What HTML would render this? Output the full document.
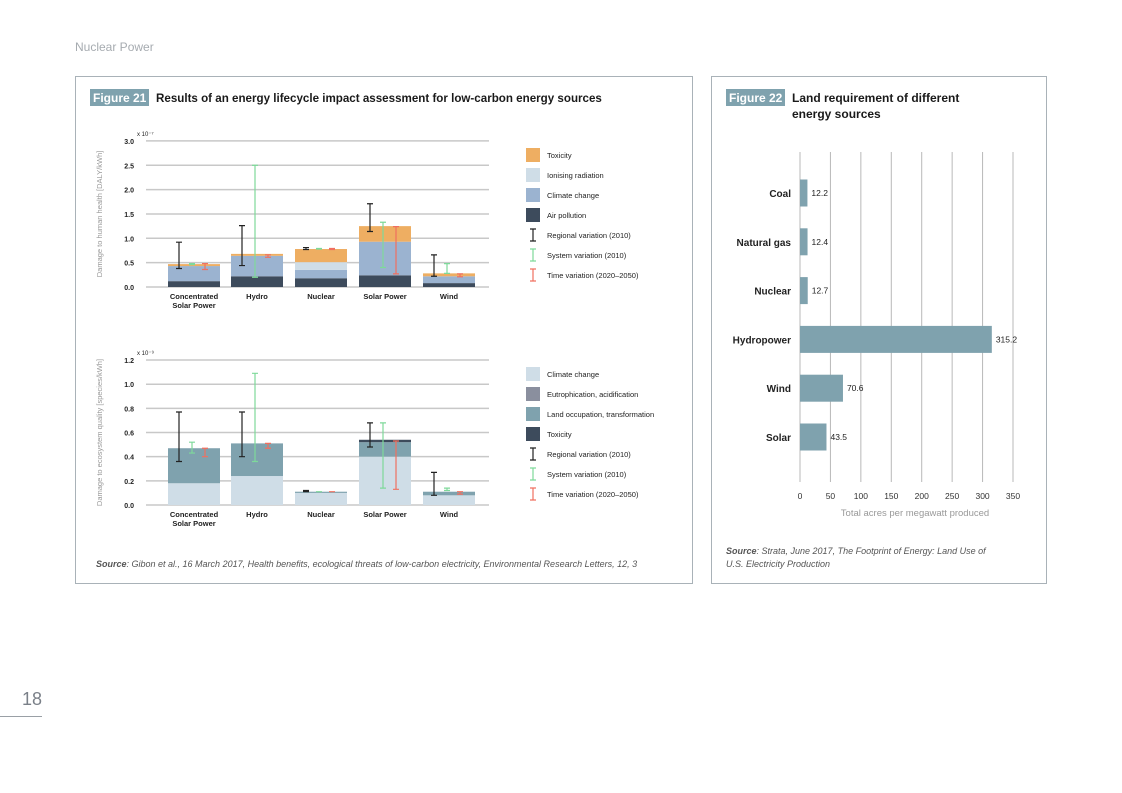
<!DOCTYPE html>
<html><head><meta charset="utf-8"><style>
body{margin:0;width:1122px;height:793px;background:#fff;font-family:"Liberation Sans",sans-serif;position:relative;overflow:hidden}
.abs{position:absolute}
</style></head><body>
<div class="abs" style="left:75px;top:40px;font-size:12px;color:#a6abb0">Nuclear Power</div>
<div class="abs" style="left:22px;top:689px;font-size:18px;color:#7a8088">18</div>
<div class="abs" style="left:0;top:716px;width:42px;height:1px;background:#9aa0a6"></div>
<div class="abs" style="left:75px;top:76px;width:616px;height:506px;border:1px solid #a9b2b8"></div>
<div class="abs" style="left:711px;top:76px;width:334px;height:506px;border:1px solid #a9b2b8"></div>
<svg class="abs" style="left:0;top:0" width="1122" height="793" id="svg" font-family="Liberation Sans, sans-serif"></svg>
<script>
const cats=["Concentrated|Solar Power","Hydro","Nuclear","Solar Power","Wind"];
const hAir=[0.12,0.22,0.18,0.24,0.08];
const hClimate=[0.31,0.42,0.17,0.69,0.14];
const hIonising=[0,0,0.16,0,0];
const hToxicity=[0.04,0.04,0.27,0.32,0.06];
const hReg=[[0.38,0.92],[0.44,1.26],[0.77,0.81],[1.14,1.71],[0.22,0.66]];
const hSys=[[0.46,0.48],[0.2,2.5],[0.78,0.79],[0.4,1.33],[0.28,0.48]];
const hTime=[[0.36,0.48],[0.61,0.66],[0.77,0.79],[0.27,1.24],[0.21,0.27]];
const hTicks=[0,0.5,1.0,1.5,2.0,2.5,3.0];
const eClimate=[0.18,0.24,0.10,0.40,0.08];
const eEutro=[0,0,0,0,0];
const eLand=[0.29,0.27,0.01,0.12,0.03];
const eTox=[0,0,0,0.02,0];
const eReg=[[0.36,0.77],[0.40,0.77],[0.11,0.12],[0.48,0.68],[0.08,0.27]];
const eSys=[[0.43,0.52],[0.36,1.09],[0.11,0.11],[0.14,0.68],[0.12,0.14]];
const eTime=[[0.40,0.47],[0.47,0.51],[0.11,0.11],[0.13,0.53],[0.09,0.11]];
const eTicks=[0,0.2,0.4,0.6,0.8,1.0,1.2];
const landCats=["Coal","Natural gas","Nuclear","Hydropower","Wind","Solar"];
const landVals=[12.2,12.4,12.7,315.2,70.6,43.5];
const landTicks=[0,50,100,150,200,250,300,350];

const svg=document.getElementById('svg');const NS='http://www.w3.org/2000/svg';
function el(t,a,txt){const e=document.createElementNS(NS,t);for(const k in a)e.setAttribute(k,a[k]);if(txt!=null)e.textContent=txt;svg.appendChild(e);return e;}

let e;
e=el('rect',{x:90,y:89,width:59,height:17,fill:'#7fa2ae'});
e=el('text',{x:93,y:102,'font-size':12,fill:'#fff','font-weight':'bold'},'Figure 21');
e=el('text',{x:156,y:102,'font-size':11.6,fill:'#1a1a1a','font-weight':'bold'},'Results of an energy lifecycle impact assessment for low-carbon energy sources');
e=el('rect',{x:726,y:89,width:59,height:17,fill:'#7fa2ae'});
e=el('text',{x:729,y:102,'font-size':12,fill:'#fff','font-weight':'bold'},'Figure 22');
e=el('text',{x:792,y:102,'font-size':12,fill:'#1a1a1a','font-weight':'bold'},'Land requirement of different');
e=el('text',{x:792,y:118,'font-size':12,fill:'#1a1a1a','font-weight':'bold'},'energy sources');
e=el('text',{x:96,y:567,'font-size':9,fill:'#555','font-style':'italic'},'');
e.innerHTML='<tspan font-weight="bold">Source</tspan>: Gibon et al., 16 March 2017, Health benefits, ecological threats of low-carbon electricity, Environmental Research Letters, 12, 3';

e=el('text',{x:726,y:554,'font-size':9,fill:'#555','font-style':'italic'},'');
e.innerHTML='<tspan font-weight="bold">Source</tspan>: Strata, June 2017, The Footprint of Energy: Land Use of';

e=el('text',{x:726,y:567,'font-size':9,fill:'#555','font-style':'italic'},'U.S. Electricity Production');

const centers=[194,257,321,385,449];
function stackChart(y0,scale,ticks,stacks,errs,exp,ylabel,pfx){
  const yOf=v=>y0-v*scale;
  ticks.forEach(t=>{
    const g=el('line',{x1:146,x2:489,y1:yOf(t),y2:yOf(t),stroke:'#c8c8c8','stroke-width':1.5});
    
    const l=el('text',{x:134,y:yOf(t)+3,'font-size':7,'font-weight':'bold','text-anchor':'end',fill:'#222'},t.toFixed(1));
    
  });
  const ex=el('text',{x:137,y:yOf(ticks[ticks.length-1])-5,'font-size':6,fill:'#222'},'x 10'+exp);
  const yl=el('text',{transform:`translate(102,${(y0+yOf(ticks[ticks.length-1]))/2}) rotate(-90)`,'font-size':7.5,fill:'#999','text-anchor':'middle'},ylabel);
  
  cats.forEach((c,i)=>{
    let acc=0;
    stacks.forEach(s=>{
      const v=s.vals[i];if(v>0){const r=el('rect',{x:centers[i]-26,y:yOf(acc+v),width:52,height:v*scale,fill:s.color});
      }
      acc+=v;
    });
    c.split('|').forEach((ln,k)=>{const t=el('text',{x:centers[i],y:y0+12+k*9,'font-size':7.5,'font-weight':'bold','text-anchor':'middle',fill:'#222'},ln);
      });
    errs.forEach(er=>{
      const [a,b]=er.vals[i];const x=centers[i]+er.off;
      const g=el('path',{d:`M${x},${yOf(a)}V${yOf(b)}M${x-3},${yOf(a)}h6M${x-3},${yOf(b)}h6`,stroke:er.color,'stroke-width':1.2,fill:'none'});
      
    });
  });
}
function legend(y,items,pfx){
  items.forEach((it,k)=>{
    const yy=y+k*20;
    if(it.err){const g=el('path',{d:`M533,${yy-6}V${yy+6}M530,${yy-6}h6M530,${yy+6}h6`,stroke:it.color,'stroke-width':1.2,fill:'none'});
      }
    else{const r=el('rect',{x:526,y:yy-7,width:14,height:14,fill:it.color});}
    const t=el('text',{x:547,y:yy+3,'font-size':7.5,fill:'#222'},it.label);
  });
}
const BLK='#222',GRN='#7ed99a',RED='#f07060';
stackChart(287,48.7,hTicks,[{name:'air-pollution',vals:hAir,color:'#3d4b5c'},{name:'climate-change',vals:hClimate,color:'#9bb3d0'},{name:'ionising-radiation',vals:hIonising,color:'#cfdde7'},{name:'toxicity',vals:hToxicity,color:'#eeae62'}],
 [{name:'regional',vals:hReg,color:BLK,off:-15},{name:'system',vals:hSys,color:GRN,off:-2},{name:'time',vals:hTime,color:RED,off:11}],'⁻⁷','Damage to human health [DALY/kWh]','health');
legend(155,[{label:'Toxicity',color:'#eeae62'},{label:'Ionising radiation',color:'#cfdde7'},{label:'Climate change',color:'#9bb3d0'},{label:'Air pollution',color:'#3d4b5c'},{label:'Regional variation (2010)',color:BLK,err:1},{label:'System variation (2010)',color:GRN,err:1},{label:'Time variation (2020–2050)',color:RED,err:1}],'health');
stackChart(505,120.8,eTicks,[{name:'climate-change',vals:eClimate,color:'#cfdde7'},{name:'eutrophication',vals:eEutro,color:'#8a8f9e'},{name:'land-occupation',vals:eLand,color:'#7fa2ae'},{name:'toxicity',vals:eTox,color:'#3d4b5c'}],
 [{name:'regional',vals:eReg,color:BLK,off:-15},{name:'system',vals:eSys,color:GRN,off:-2},{name:'time',vals:eTime,color:RED,off:11}],'⁻⁹','Damage to ecosystem quality [species/kWh]','eco');
legend(374,[{label:'Climate change',color:'#cfdde7'},{label:'Eutrophication, acidification',color:'#8a8f9e'},{label:'Land occupation, transformation',color:'#7fa2ae'},{label:'Toxicity',color:'#3d4b5c'},{label:'Regional variation (2010)',color:BLK,err:1},{label:'System variation (2010)',color:GRN,err:1},{label:'Time variation (2020–2050)',color:RED,err:1}],'eco');

const lx=v=>800+v*(213/350);
landTicks.forEach(t=>{
  const g=el('line',{x1:lx(t),x2:lx(t),y1:152,y2:482,stroke:'#b8b8b8','stroke-width':1});
  const l=el('text',{x:lx(t),y:499,'font-size':8.5,'text-anchor':'middle',fill:'#333'},t);
});
landCats.forEach((c,i)=>{
  const cy=193+i*48.8;
  const r=el('rect',{x:lx(0),y:cy-13.5,width:lx(landVals[i])-lx(0),height:27,fill:'#7fa2ae'});
  const t=el('text',{x:791,y:cy+4,'font-size':10,'font-weight':'bold','text-anchor':'end',fill:'#222'},c);
  const v=el('text',{x:lx(landVals[i])+4,y:cy+3,'font-size':8.5,fill:'#222'},landVals[i].toFixed(1));
});
e=el('text',{x:915,y:516,'font-size':9.5,'text-anchor':'middle',fill:'#999'},'Total acres per megawatt produced');
</script>
</body></html>
